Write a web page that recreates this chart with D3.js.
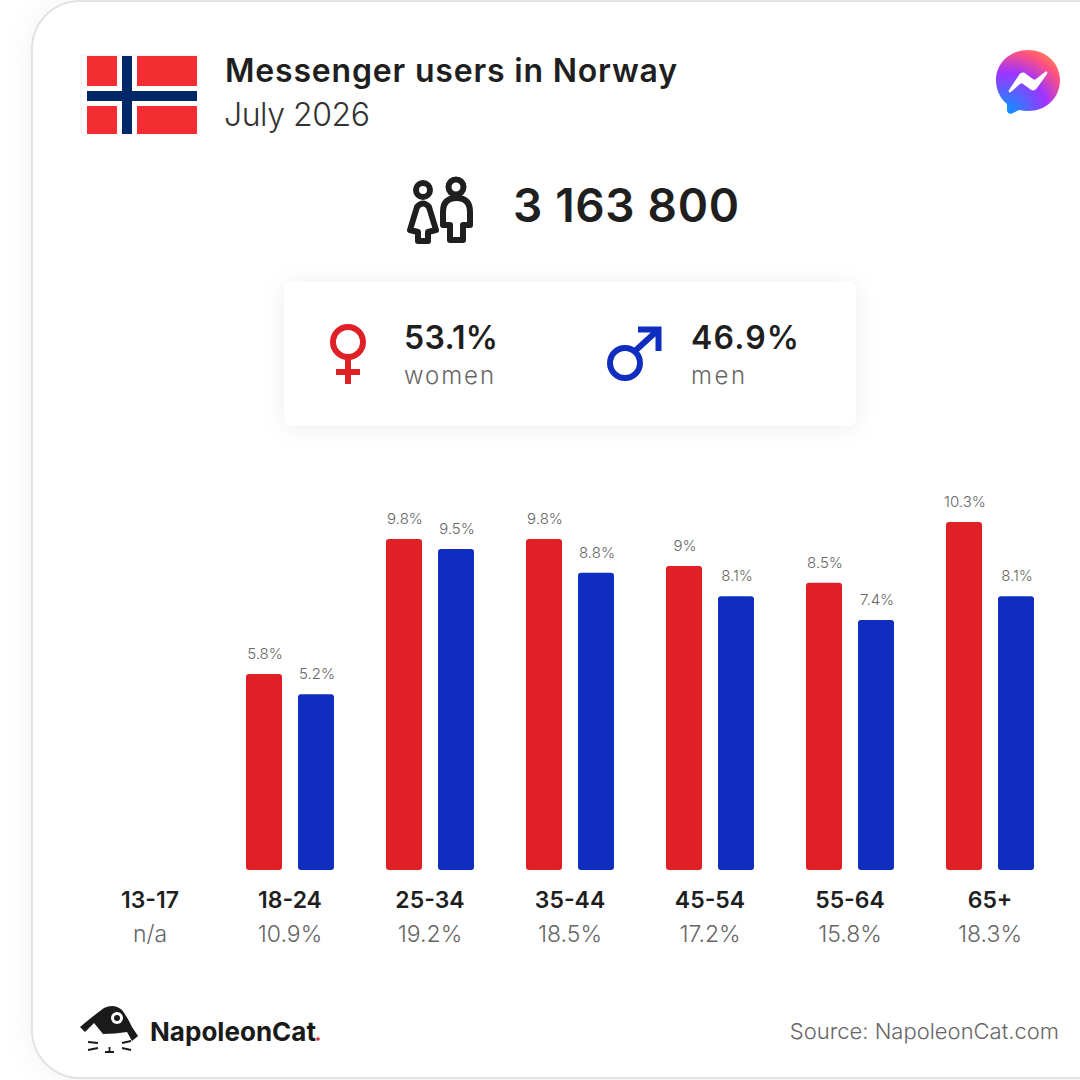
<!DOCTYPE html>
<html>
<head>
<meta charset="utf-8">
<script src="https://cdn.jsdelivr.net/npm/d3@7"></script>
<style>
html, body { margin: 0; padding: 0; background: #fff; overflow: hidden; }
text { font-family: Inter, "Open Sans", sans-serif; }
</style>
</head>
<body>
<script>
// Age groups and the share of all users in each
const ages = ["13-17", "18-24", "25-34", "35-44", "45-54", "55-64", "65+"];
const shares = ["n/a", "10.9%", "19.2%", "18.5%", "17.2%", "15.8%", "18.3%"];

// % of users per group, null = no data
const women = [null, 5.8, 9.8, 9.8, 9, 8.5, 10.3];
const men = [null, 5.2, 9.5, 8.8, 8.1, 7.4, 8.1];

const genders = ["women", "men"];
const genderShare = ["53.1%", "46.9%"];
const totalUsers = "3 163 800";

const width = 1080;
const height = 1080;
const red = "#df2027";
const blue = "#0f2dbf";
const dark = "#1f1f1f";
const grey = "#666";

const svg = d3.select("body")
  .append("svg")
  .attr("width", width)
  .attr("height", height)
  .style("display", "block");

const defs = svg.append("defs");

const cardShadow = defs.append("filter").attr("id", "cardShadow")
  .attr("x", "-20%").attr("y", "-20%").attr("width", "140%").attr("height", "140%");
cardShadow.append("feDropShadow")
  .attr("dx", 0).attr("dy", 0).attr("stdDeviation", 14)
  .attr("flood-color", "#000").attr("flood-opacity", 0.05);

const panelShadow = defs.append("filter").attr("id", "panelShadow")
  .attr("x", "-20%").attr("y", "-40%").attr("width", "140%").attr("height", "180%");
panelShadow.append("feDropShadow")
  .attr("dx", 0).attr("dy", 2).attr("stdDeviation", 11)
  .attr("flood-color", "#000").attr("flood-opacity", 0.07);

const msgGrad = defs.append("radialGradient").attr("id", "msgGrad")
  .attr("gradientUnits", "userSpaceOnUse")
  .attr("cx", 1006).attr("cy", 114).attr("r", 70);
[["0", "#0099ff"], ["0.6", "#a033ff"], ["0.9", "#ff5280"], ["1", "#ff7061"]].forEach(function(s) {
  msgGrad.append("stop").attr("offset", s[0]).attr("stop-color", s[1]);
});

// Outer card, runs off the right edge
svg.append("rect")
  .attr("x", 32).attr("y", 1)
  .attr("width", 1120).attr("height", 1077)
  .attr("rx", 48)
  .attr("fill", "#fff")
  .attr("stroke", "#e2e2e2")
  .attr("stroke-width", 2)
  .attr("filter", "url(#cardShadow)");

// Flag
const flag = svg.append("g");
flag.append("rect").attr("x", 80).attr("y", 54).attr("width", 120).attr("height", 80).attr("fill", "#f6f6f6");
flag.append("rect").attr("x", 82).attr("y", 56).attr("width", 118).attr("height", 78).attr("fill", "#fff");
[[87, 56, 30, 30], [137, 56, 60, 30], [87, 106, 30, 28], [137, 106, 60, 28]].forEach(function(r) {
  flag.append("rect").attr("x", r[0]).attr("y", r[1]).attr("width", r[2]).attr("height", r[3]).attr("fill", "#f22e33");
});
flag.append("rect").attr("x", 122).attr("y", 56).attr("width", 10).attr("height", 78).attr("fill", "#002868");
flag.append("rect").attr("x", 87).attr("y", 91).attr("width", 110).attr("height", 10).attr("fill", "#002868");

// Title
svg.append("text").attr("x", 225).attr("y", 82)
  .attr("font-size", 32).attr("font-weight", 600).attr("fill", dark)
  .attr("textLength", 452)
  .text("Messenger users in Norway");
svg.append("text").attr("x", 224).attr("y", 126)
  .attr("font-size", 32).attr("font-weight", 300).attr("fill", "#333")
  .attr("textLength", 146)
  .text("July 2026");

// Messenger logo
svg.append("path")
  .attr("fill", "url(#msgGrad)")
  .attr("d", "M1028 50 C1046 50 1060 63 1060 80 C1060 98 1046 111 1028 111 C1025 111 1022 110.500 1019 110 L1012 113.500 C1009.500 114.500 1007 113 1007 110 L1007 104 C1000 98 996 90 996 80 C996 63 1010 50 1028 50 Z");
svg.append("path")
  .attr("fill", "#fff")
  .attr("d", "M1009 90 L1019 75 C1021 72 1024 72 1026 74 L1033 79 C1034 80 1035 80 1036 79 L1045 72 C1047 71 1048 72 1047 74 L1037 88 C1035 91 1032 91 1030 89 L1023 84 C1022 83 1021 83 1020 84 L1011 92 C1009 93 1008 92 1009 90 Z");

// People icon and total
const people = svg.append("g")
  .attr("fill", "none").attr("stroke", dark)
  .attr("stroke-width", 6).attr("stroke-linejoin", "round");
people.append("circle").attr("cx", 423).attr("cy", 190).attr("r", 7);
people.append("circle").attr("cx", 456).attr("cy", 187).attr("r", 7.500);
people.append("path").attr("d", "M417 207 Q423 200 429 207 L436 230 L428 232 L428 241 L418 241 L418 232 L410 230 Z");
people.append("path").attr("d", "M443 225 V212 Q443 198 456.500 198 Q470 198 470 212 V225 H463 V240 H450 V225 Z");

svg.append("text").attr("x", 513).attr("y", 222)
  .attr("font-size", 46).attr("font-weight", 600).attr("fill", dark)
  .attr("textLength", 226)
  .text(totalUsers);

// Gender panel
svg.append("rect")
  .attr("x", 284).attr("y", 282)
  .attr("width", 572).attr("height", 144)
  .attr("rx", 8)
  .attr("fill", "#fff")
  .attr("filter", "url(#panelShadow)");

// Female symbol
const venus = svg.append("g").attr("fill", "none").attr("stroke", red).attr("stroke-width", 6);
venus.append("circle").attr("cx", 348).attr("cy", 342).attr("r", 15);
venus.append("path").attr("d", "M348 357 V384 M336 372 H360");

// Male symbol
const mars = svg.append("g").attr("fill", "none").attr("stroke", blue).attr("stroke-width", 6);
mars.append("circle").attr("cx", 625).attr("cy", 363).attr("r", 15);
mars.append("path").attr("d", "M635 351 L658 330 M638 329.500 H658.500 V351");

const panelX = [404, 691];
const panelW = [94, 108];
const labelW = [90, 54];
genders.forEach(function(g, i) {
  svg.append("text").attr("x", panelX[i]).attr("y", 349)
    .attr("font-size", 32).attr("font-weight", 600).attr("fill", dark)
    .attr("textLength", panelW[i])
    .text(genderShare[i]);
  svg.append("text").attr("x", panelX[i]).attr("y", 384)
    .attr("font-size", 24).attr("font-weight", 300).attr("fill", grey)
    .attr("textLength", labelW[i])
    .text(g);
});

// Bars
const x = d3.scaleBand().domain(ages).range([80, 1060]);
const sub = d3.scaleBand().domain(genders).range([-44, 44]).paddingInner(16 / 52);
const y = d3.scaleLinear().domain([0, 10.3]).range([870, 522]);

const seriesByGender = { women: women, men: men };
const barColor = d3.scaleOrdinal().domain(genders).range([red, blue]);

genders.forEach(function(g) {
  const rows = ages
    .map(function(a, i) { return { age: a, value: seriesByGender[g][i] }; })
    .filter(function(d) { return d.value !== null; });

  const pos = function(d) { return x(d.age) + x.bandwidth() / 2 + sub(g); };

  svg.append("g").selectAll("rect")
    .data(rows)
    .enter()
    .append("rect")
    .attr("x", pos)
    .attr("y", function(d) { return y(d.value); })
    .attr("width", sub.bandwidth())
    .attr("height", function(d) { return y(0) - y(d.value); })
    .attr("rx", 3)
    .attr("fill", barColor(g));

  svg.append("g").selectAll("text")
    .data(rows)
    .enter()
    .append("text")
    .attr("x", function(d) { return pos(d) + sub.bandwidth() / 2 + 1; })
    .attr("y", function(d) { return y(d.value) - 15; })
    .attr("text-anchor", "middle")
    .attr("font-size", 15)
    .attr("font-weight", 300)
    .attr("fill", grey)
    .text(function(d) { return d.value + "%"; });
});

// Age labels
const xAxis = d3.axisBottom(x).tickSize(0).tickPadding(0);
const axisG = svg.append("g")
  .attr("transform", "translate(0,892)")
  .call(xAxis);
axisG.select(".domain").remove();
axisG.selectAll("text")
  .attr("font-size", 23)
  .attr("font-weight", 600)
  .attr("fill", dark)
  .style("font-family", "Inter, sans-serif");

svg.append("g").selectAll("text")
  .data(shares)
  .enter()
  .append("text")
  .attr("x", function(d, i) { return x(ages[i]) + x.bandwidth() / 2; })
  .attr("y", 942)
  .attr("text-anchor", "middle")
  .attr("font-size", 23)
  .attr("font-weight", 300)
  .attr("fill", grey)
  .text(function(d) { return d; });

// NapoleonCat logo
const logo = svg.append("g");
logo.append("path")
  .attr("fill", "#1a1a1a")
  .attr("d", "M80 1027 Q93 1016 104 1008 Q114 1003 122 1010 Q128 1018 132 1027 L138 1036 L132 1041 L127 1032 Q115 1034 103 1034 L94 1023 L85 1032 Z");
logo.append("circle").attr("cx", 117).attr("cy", 1018).attr("r", 6).attr("fill", "#fff");
logo.append("circle").attr("cx", 117).attr("cy", 1018).attr("r", 3).attr("fill", "#1a1a1a");
logo.append("path")
  .attr("fill", "none").attr("stroke", "#1a1a1a").attr("stroke-width", 1.800)
  .attr("d", "M88 1042 L98 1043 M88 1050 L98 1048 M122 1043 L131 1041 M122 1048 L131 1050 M105 1052 H114 M109.500 1047 V1052");
svg.append("text").attr("x", 150).attr("y", 1041)
  .attr("font-size", 26).attr("font-weight", 700).attr("fill", "#1a1a1a")
  .attr("textLength", 166)
  .text("NapoleonCat");
logo.append("circle").attr("cx", 318).attr("cy", 1039).attr("r", 1.800).attr("fill", "#e8212b");

svg.append("text").attr("x", 1059).attr("y", 1039)
  .attr("text-anchor", "end")
  .attr("font-size", 22).attr("font-weight", 300).attr("fill", grey)
  .text("Source: NapoleonCat.com");
</script>
</body>
</html>
